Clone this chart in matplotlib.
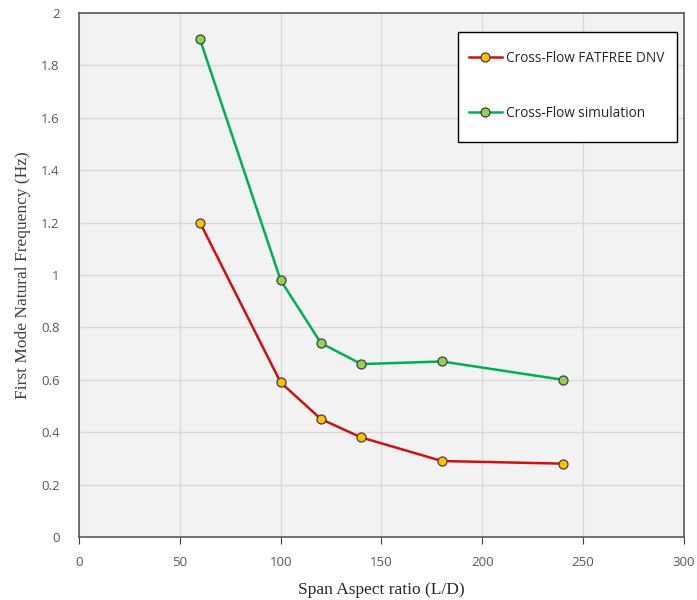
import matplotlib
matplotlib.use("Agg")
import matplotlib.pyplot as plt
from matplotlib.patches import Rectangle

# Span aspect ratios (L/D) and first-mode natural frequencies (Hz)
span_ratio = [60, 100, 120, 140, 180, 240]
freq_dnv = [1.20, 0.59, 0.45, 0.38, 0.29, 0.28]
freq_sim = [1.90, 0.98, 0.74, 0.66, 0.67, 0.60]

x_ticks = [0, 50, 100, 150, 200, 250, 300]
y_ticks = [0, 0.2, 0.4, 0.6, 0.8, 1.0, 1.2, 1.4, 1.6, 1.8, 2.0]
y_tick_labels = ["0", "0.2", "0.4", "0.6", "0.8", "1", "1.2", "1.4", "1.6", "1.8", "2"]

fig = plt.figure(figsize=(6.97, 6.0), dpi=100)
ax = fig.add_axes([0.1133, 0.105, 0.868, 0.8733])
ax.set_facecolor("#f2f2f2")

ax.plot(span_ratio, freq_dnv, color="#d01010", lw=1.8, marker="o", ms=6.5,
        mfc="#ffc000", mec="#404040", mew=0.9, label="Cross-Flow FATFREE DNV", zorder=3)
ax.plot(span_ratio, freq_sim, color="#00b050", lw=1.8, marker="o", ms=6.5,
        mfc="#92d050", mec="#404040", mew=0.9, label="Cross-Flow simulation", zorder=3)

ax.set_xlim(0, 300)
ax.set_ylim(0, 2)
ax.set_xticks(x_ticks)
ax.set_yticks(y_ticks)
ax.set_yticklabels(y_tick_labels)
ax.grid(True, color="#d9d9d9", lw=1.0)
ax.set_axisbelow(True)

for s in ax.spines.values():
    s.set_color("#595959")
    s.set_linewidth(1.2)

for lab in ax.get_xticklabels() + ax.get_yticklabels():
    lab.set_fontfamily("Open Sans")
    lab.set_fontsize(9.5)
    lab.set_color("#595959")
ax.tick_params(axis="x", direction="out", length=5, color="#404040", pad=9)
ax.tick_params(axis="y", length=0, pad=14)

ax.set_xlabel("Span Aspect ratio (L/D)", family="Liberation Serif", fontsize=12.5,
              color="#262626", labelpad=9)
ax.set_ylabel("First Mode Natural Frequency (Hz)", family="Liberation Serif", fontsize=12.5,
              color="#404040", labelpad=7)

# Legend box drawn separately so its padding can be set independently per side
box = Rectangle((458 / 697, 1 - 142 / 600), 219 / 697, 110 / 600,
                transform=fig.transFigure, facecolor="white", edgecolor="black",
                lw=1.0, zorder=4, clip_on=False)
ax.add_patch(box)

leg = ax.legend(loc="upper left", bbox_to_anchor=(469 / 697, 1 - 51 / 600),
                bbox_transform=fig.transFigure, frameon=False,
                prop={"family": "Open Sans", "size": 9.8}, labelspacing=2.95,
                borderpad=0, handlelength=2.4, handletextpad=0.3, borderaxespad=0)
leg.set_zorder(5)
for t in leg.get_texts():
    t.set_color("#262626")

fig.savefig("out.png", dpi=100, facecolor="white")
